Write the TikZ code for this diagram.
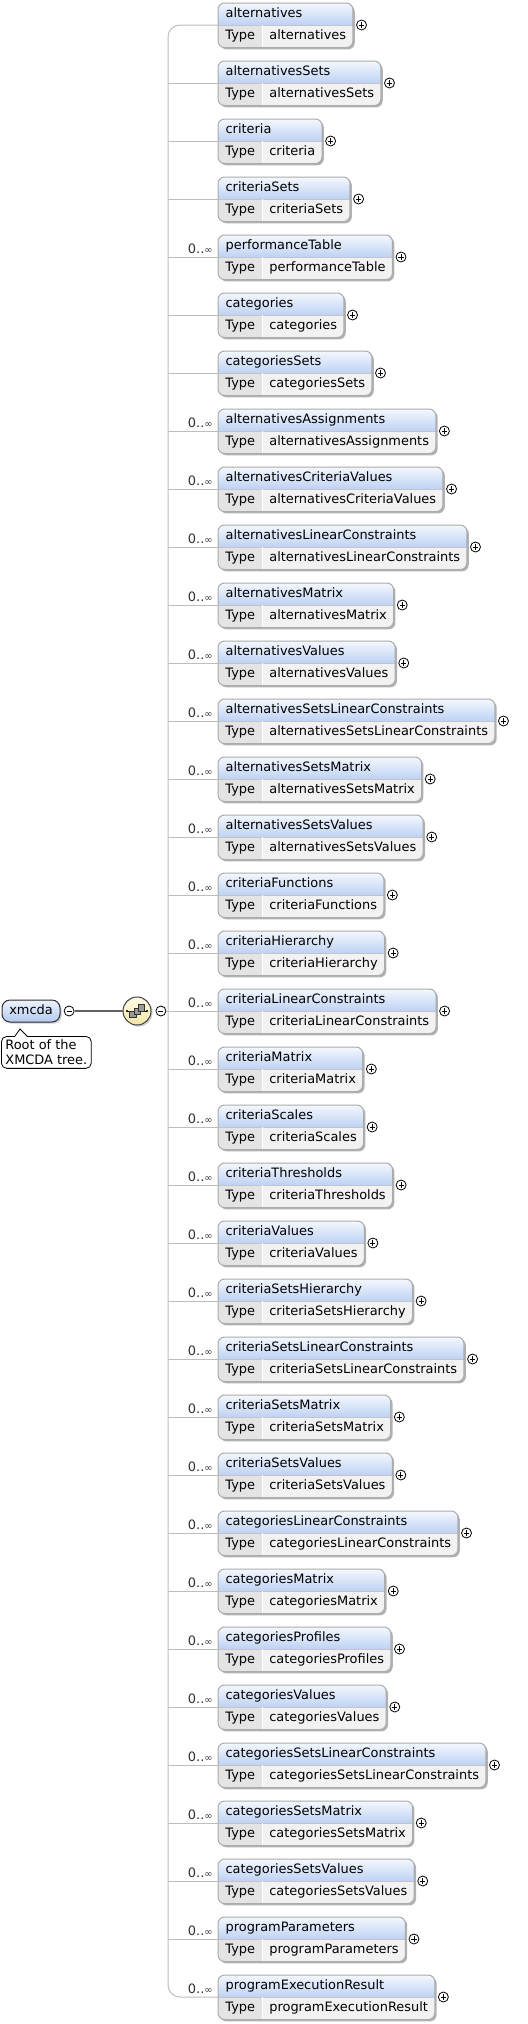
\documentclass[tikz,border=0pt]{standalone}
\usepackage{fontspec}
\setmainfont{DejaVu Sans}
\usepackage{xcolor}
\definecolor{headtop}{HTML}{F4F8FE}
\definecolor{headbot}{HTML}{BED2F4}
\definecolor{typegray}{HTML}{E4E4E4}
\definecolor{valgray}{HTML}{F2F2F2}
\definecolor{edgegray}{HTML}{ABABAB}
\definecolor{linkgray}{HTML}{BDBDBD}
\definecolor{occgray}{HTML}{333333}
\definecolor{roottop}{HTML}{EEF3FD}
\definecolor{rootbot}{HTML}{B4CAF0}
\definecolor{rootedge}{HTML}{2E2E2E}
\definecolor{seqtop}{HTML}{FFFCE6}
\definecolor{seqbot}{HTML}{F1E6A6}
\definecolor{iconfill}{HTML}{9A9A9A}
\usepackage{tikz}
\usetikzlibrary{positioning,backgrounds,shadows}
\newcommand{\xsdfont}{\fontsize{9.7pt}{11.25pt}\selectfont}
\tikzset{
  typecell/.style={anchor=north west,minimum width=33pt,minimum height=16.5pt,inner sep=0pt,text height=7pt,text depth=2pt,font=\xsdfont},
  typevalue/.style={minimum height=16.5pt,inner xsep=4.9pt,inner ysep=0pt,text height=7pt,text depth=2pt,font=\xsdfont},
  headtext/.style={anchor=west,inner xsep=5.5pt,inner ysep=0pt,text height=7pt,text depth=2pt,font=\xsdfont},
  occurs/.style={anchor=base east,inner sep=0pt,text=occgray,font=\xsdfont},
  boxedge/.style={draw=edgegray,line width=0.75pt},
  boxshadow/.style={fill=black!30},
  linkline/.style={draw=linkgray,line width=0.75pt},
  rootlink/.style={draw=black!62,line width=1.3pt},
  plusnode/.style={circle,draw=black,fill=white,line width=0.6pt,minimum size=7.5pt,inner sep=0pt,
    path picture={\draw[line width=0.6pt] (path picture bounding box.center) +(-1.9pt,0) -- +(1.9pt,0)
      (path picture bounding box.center) +(0,-1.9pt) -- +(0,1.9pt);}},
  minusnode/.style={circle,draw=black,fill=white,line width=0.6pt,minimum size=7.5pt,inner sep=0pt,
    path picture={\draw[line width=0.6pt] (path picture bounding box.center) +(-1.9pt,0) -- +(1.9pt,0);}},
  rootbox/.style={draw=rootedge,line width=0.75pt,rounded corners=6pt,top color=roottop,bottom color=rootbot,
    minimum width=43.5pt,minimum height=16.5pt,inner sep=0pt,text height=7pt,text depth=2pt,font=\xsdfont,
    drop shadow={shadow xshift=1.2pt,shadow yshift=-1.2pt,fill=black!40}},
  seqnode/.style={circle,draw=black!75,line width=0.75pt,top color=seqtop,bottom color=seqbot,minimum size=21pt,inner sep=0pt,
    drop shadow={shadow xshift=1.2pt,shadow yshift=-1.2pt,fill=black!40}},
  iconbox/.style={fill=iconfill,draw=black!80,line width=0.4pt},
  docnote/.style={draw=black,fill=white,line width=0.6pt,rounded corners=4pt,align=left,inner xsep=3pt,inner ysep=2.6pt,font=\xsdfont}
}

\begin{document}
\begin{tikzpicture}[x=0.75pt,y=-0.75pt]
\useasboundingbox (0,0) rectangle (528,2024);

% child elements of the sequence
\foreach \nm/\occ [count=\i] in {alternatives/0,alternativesSets/0,criteria/0,criteriaSets/0,performanceTable/1,
  categories/0,categoriesSets/0,alternativesAssignments/1,alternativesCriteriaValues/1,alternativesLinearConstraints/1,
  alternativesMatrix/1,alternativesValues/1,alternativesSetsLinearConstraints/1,alternativesSetsMatrix/1,
  alternativesSetsValues/1,criteriaFunctions/1,criteriaHierarchy/1,criteriaLinearConstraints/1,criteriaMatrix/1,
  criteriaScales/1,criteriaThresholds/1,criteriaValues/1,criteriaSetsHierarchy/1,criteriaSetsLinearConstraints/1,
  criteriaSetsMatrix/1,criteriaSetsValues/1,categoriesLinearConstraints/1,categoriesMatrix/1,categoriesProfiles/1,
  categoriesValues/1,categoriesSetsLinearConstraints/1,categoriesSetsMatrix/1,categoriesSetsValues/1,
  programParameters/1,programExecutionResult/1} {
  \pgfmathsetmacro\yc{25+(\i-1)*58}
  \node[typecell] (t\i) at (218,\yc) {Type};
  \node[typevalue,right=0pt of t\i] (v\i) {\nm};
  \node[headtext] (h\i) at ([yshift=8.25pt]t\i.north west) {\nm};
  \node[plusnode,right=2.4pt of v\i.north east] (p\i) {};
  \begin{scope}[on background layer]
    \fill[boxshadow,rounded corners=5pt] ([shift={(1.4pt,-1.4pt)}]h\i.west |- 0,\yc-22) rectangle ([shift={(1.4pt,-1.4pt)}]v\i.south east);
    \begin{scope}
      \clip[rounded corners=5pt] (t\i.north west |- 0,\yc-22) rectangle (v\i.south east);
      \shade[top color=headtop,bottom color=headbot] (t\i.north west |- 0,\yc-22) rectangle (v\i.north east);
      \fill[typegray] (t\i.north west) rectangle (t\i.south east);
      \fill[valgray] (v\i.north west) rectangle (v\i.south east);
    \end{scope}
    \draw[edgegray!70,line width=0.5pt] (t\i.north west) -- (v\i.north east);
    \draw[white,line width=0.75pt] (t\i.north east) -- (t\i.south east);
    \draw[boxedge,rounded corners=5pt] (t\i.north west |- 0,\yc-22) rectangle (v\i.south east);
  \end{scope}
  \ifnum\occ=1
    \node[occurs] (o\i) at ([xshift=-3.75pt,yshift=3pt]t\i.north west) {0..{\fontsize{7.5pt}{8pt}\selectfont ∞}};
  \fi
}

% root element and sequence compositor
\coordinate (trunk) at (168,1011);
\node[rootbox] (xmcda) at (31,1011) {xmcda};
\node[minusnode,right=2.4pt of xmcda] (rootminus) {};
\node[seqnode] (seq) at (137,1011) {};
\node[minusnode,right=3pt of seq] (seqminus) {};
\draw[rootlink] (rootminus) -- (seq);
\draw[line width=0.5pt] ([xshift=-7.5pt]seq.center) -- ([xshift=7.5pt]seq.center);
\fill ([xshift=-7.5pt]seq.center) circle (0.9pt) ([xshift=7.5pt]seq.center) circle (0.9pt);
\foreach \dx/\dy in {-3.2pt/-2.4pt,0pt/0pt,3.2pt/2.4pt}
  \draw[iconbox] ([shift={(\dx,\dy)}]seq.center) ++(-2.3pt,-2.3pt) rectangle ++(4.6pt,4.6pt);

% connectors
\draw[linkline] (seqminus) -- (trunk);
\draw[linkline,rounded corners=9pt] (t1.north west) -- (t1.north west -| trunk) -- (t35.north west -| trunk) -- (t35.north west);
\foreach \i in {2,...,34}
  \draw[linkline] (t\i.north west -| trunk) -- (t\i.north west);

% annotation
\node[docnote,anchor=north west] (rootdoc) at (1,1036) {Root of the\\XMCDA tree.};
\fill[white] ([xshift=10.5pt,yshift=-0.6pt]rootdoc.north west) -- ([xshift=14.25pt,yshift=5.25pt]rootdoc.north west)
  -- ([xshift=19.5pt,yshift=-0.6pt]rootdoc.north west) -- cycle;
\draw[line width=0.6pt] ([xshift=10.5pt]rootdoc.north west) -- ([xshift=14.25pt,yshift=5.25pt]rootdoc.north west)
  -- ([xshift=19.5pt]rootdoc.north west);
\end{tikzpicture}
\end{document}
